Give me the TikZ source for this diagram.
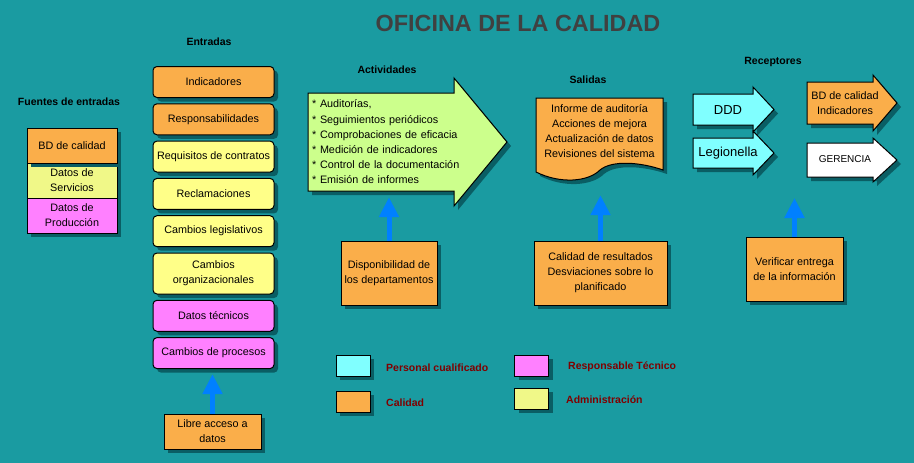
\documentclass[tikz,border=0pt]{standalone}
\usepackage{fontspec}
\setmainfont{Liberation Sans}
\usetikzlibrary{arrows.meta, calc, positioning, shadows}
\definecolor{fondo}{RGB}{26,155,161}
\definecolor{oscuro}{RGB}{10,94,100}
\definecolor{naranja}{RGB}{250,174,74}
\definecolor{amarillo}{RGB}{255,255,136}
\definecolor{lima}{RGB}{240,248,136}
\definecolor{rosa}{RGB}{255,128,255}
\definecolor{celeste}{RGB}{128,255,255}
\definecolor{verde}{RGB}{204,255,140}
\definecolor{azul}{RGB}{0,128,255}
\definecolor{gristit}{RGB}{64,64,64}
\definecolor{granate}{RGB}{128,0,0}

\begin{document}
\begin{tikzpicture}[x=1pt, y=-1pt, font=\fontsize{10.8}{15.2}\selectfont,
  sombra/.style={drop shadow={fill=oscuro, opacity=1, shadow xshift=4pt, shadow yshift=-4pt}},
  caja/.style={draw, line width=1pt, sombra, align=center, inner sep=2pt},
  entrada/.style={caja, rounded corners=4pt, minimum width=121pt, minimum height=31pt},
  fuente/.style={caja, minimum width=90pt, minimum height=35pt},
  apoyo/.style={caja, fill=naranja, minimum height=64pt},
  leyenda/.style={draw, line width=1pt, sombra, minimum width=34pt, minimum height=21pt, inner sep=0pt},
  forma/.style={draw, line width=1pt, sombra},
  rotulo/.style={font=\fontsize{10.5}{13}\selectfont\bfseries},
  rotuloley/.style={rotulo, text=granate, anchor=west, inner sep=0pt},
  subida/.style={azul, line width=5pt, -{Triangle[width=19pt, length=20pt]}}]
\useasboundingbox (0,0) rectangle (914,463);
\fill[fondo] (0,0) rectangle (914,463);
% title and headings
\node[font=\fontsize{23.4}{26}\selectfont\bfseries, text=gristit] (tit) at (518,23) {OFICINA DE LA CALIDAD};
\node[rotulo] (hfue) at (69,102) {Fuentes de entradas};
\node[rotulo] (hent) at (209,42) {Entradas};
\node[rotulo] (hact) at (387,70) {Actividades};
\node[rotulo] (hsal) at (588,80) {Salidas};
\node[rotulo] (hrec) at (773,62) {Receptores};
% fuentes
\node[fuente, fill=lima] (serv) at (72,180.5) {Datos de\\Servicios};
\node[fuente, fill=rosa, below=-1pt of serv] (prod) {Datos de\\Producción};
\node[fuente, fill=naranja, above=-1pt of serv] (bd) {BD de calidad};
% entradas
\node[entrada, fill=naranja] (ind) at (213.5,82) {Indicadores};
\node[entrada, fill=naranja, below=5.3pt of ind] (resp) {Responsabilidades};
\node[entrada, fill=amarillo, below=5.3pt of resp] (req) {Requisitos de contratos};
\node[entrada, fill=amarillo, below=5.3pt of req] (recl) {Reclamaciones};
\node[entrada, fill=amarillo, below=5.3pt of recl] (legis) {Cambios legislativos};
\node[entrada, fill=amarillo, minimum height=41pt, below=5.3pt of legis] (organ) {Cambios\\organizacionales};
\node[entrada, fill=rosa, below=5.3pt of organ] (tecn) {Datos técnicos};
\node[entrada, fill=rosa, below=5.3pt of tecn] (proc) {Cambios de procesos};
\node[caja, fill=naranja, minimum width=97pt, minimum height=35pt] (libre) at (212.5,431.5) {Libre acceso a\\datos};
\draw[subida, shorten >=5pt] (libre.north) -- (libre.north |- proc.south);
% actividades
\draw[forma, fill=verde] (308,93) -- (454,93) -- (454,78) -- (507,142) -- (454,206) -- (454,191) -- (308,191) -- cycle;
\node[anchor=west, align=left, text width=160pt, inner sep=4pt, minimum height=98pt] (act) at (308,142)
  {* Auditorías,\\{*} Seguimientos periódicos\\{*} Comprobaciones de eficacia\\{*} Medición de indicadores\\{*} Control de la documentación\\{*} Emisión de informes};
\node[apoyo, minimum width=96pt] (disp) at (389,273) {Disponibilidad de\\los departamentos};
\draw[subida, shorten >=6pt] (disp.north) -- (disp.north |- act.south);
% salidas
\draw[forma, fill=naranja] (536,98) -- (663,98) -- (663,170) .. controls (640,162) and (612,160) .. (600,170)
  .. controls (588,182) and (560,184) .. (536,172) -- cycle;
\node[align=center, minimum width=127pt, minimum height=66pt] (sal) at (599.5,131)
  {Informe de auditoría\\Acciones de mejora\\Actualización de datos\\Revisiones del sistema};
\node[apoyo, minimum width=133pt] (res) at (600.5,273) {Calidad de resultados\\Desviaciones sobre lo\\planificado};
\draw[subida, shorten >=31pt] (res.north) -- (res.north |- sal.south);
% receptores
\draw[forma, fill=celeste] (693,94) -- (753,94) -- (753,87) -- (774,109.5) -- (753,132) -- (753,125) -- (693,125) -- cycle;
\draw[forma, fill=celeste] (693,138) -- (753,138) -- (753,131) -- (774,153) -- (753,175) -- (753,168) -- (693,168) -- cycle;
\draw[forma, fill=naranja] (807,82) -- (873,82) -- (873,75) -- (897,103) -- (873,131) -- (873,124) -- (807,124) -- cycle;
\draw[forma, fill=white] (807,143) -- (873,143) -- (873,138) -- (897,160) -- (873,182) -- (873,177) -- (807,177) -- cycle;
\node[font=\fontsize{13}{15}\selectfont] (ddd) at (728,110) {DDD};
\node[font=\fontsize{13}{15}\selectfont] (legio) at (728,153) {Legionella};
\node[align=center] (bdrec) at (845,103) {BD de calidad\\Indicadores};
\node[font=\fontsize{10}{12}\selectfont] (ger) at (845,159) {GERENCIA};
\node[apoyo, minimum width=97pt] (verif) at (794.5,269) {Verificar entrega\\de la información};
\coordinate (recep) at (794.5,198);
\draw[subida] (verif.north) -- (recep);
% leyenda
\node[leyenda, fill=celeste] (lcel) at (353,365.5) {};
\node[rotuloley] (tcel) at (386,368) {Personal cualificado};
\node[leyenda, fill=naranja] (lnar) at (353,401.5) {};
\node[rotuloley] (tnar) at (386,403) {Calidad};
\node[leyenda, fill=rosa] (lros) at (531.5,365.5) {};
\node[rotuloley] (tros) at (568,367) {Responsable Técnico};
\node[leyenda, fill=lima] (llim) at (531.5,398.5) {};
\node[rotuloley] (tlim) at (566,400) {Administración};
\end{tikzpicture}
\end{document}
